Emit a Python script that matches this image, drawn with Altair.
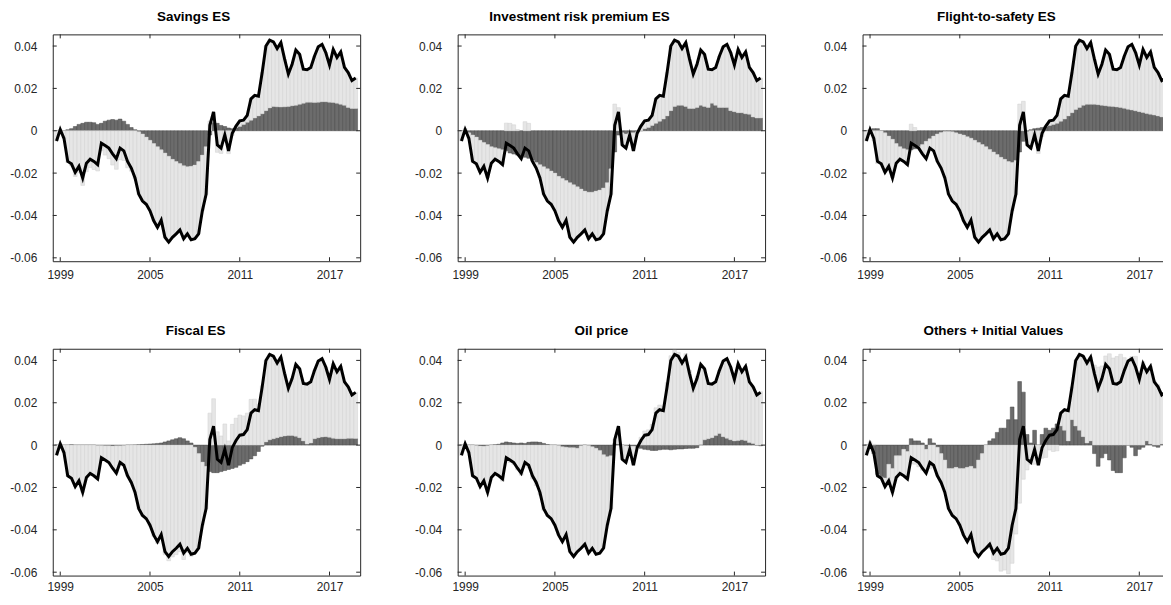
import altair as alt
import pandas as pd

titles = ["Savings ES", "Investment risk premium ES", "Flight-to-safety ES",
          "Fiscal ES", "Oil price", "Others + Initial Values"]
# the titles sit a little left of the plot centre in the original figure
title_shift = [-13, -32, -20, -11, -10, -23]

quarters = pd.period_range("1998Q4", "2018Q4", freq="Q")

# observed series (black line), same in every panel
total = [
    -0.0048, 0.0006, -0.0036, -0.0145, -0.0156, -0.0196, -0.0168, -0.0223, -0.0153, -0.0134,
    -0.0145, -0.016, -0.0059, -0.007, -0.0082, -0.0109, -0.0132, -0.0082, -0.0095, -0.0145,
    -0.0176, -0.0223, -0.030, -0.0332, -0.0347, -0.0378, -0.0425, -0.0456, -0.0422, -0.0503,
    -0.0526, -0.0503, -0.0487, -0.0468, -0.051, -0.0487, -0.0515, -0.051, -0.0487, -0.0378,
    -0.030, 0.0026, 0.0089, -0.0067, -0.0082, -0.002, -0.0095, -0.0012, 0.0022, 0.0047,
    0.005, 0.0073, 0.0151, 0.0167, 0.0163, 0.0275, 0.04, 0.0428, 0.042, 0.0388,
    0.0416, 0.0338, 0.0268, 0.0314, 0.0381, 0.0361, 0.0291, 0.0288, 0.0299, 0.0353,
    0.0397, 0.0408, 0.0369, 0.031, 0.0384, 0.0346, 0.0372, 0.0299, 0.0275, 0.0237,
    0.0249,
]

savings = [
    0, 0, 0, 0.0005, 0.001, 0.002, 0.003, 0.0035, 0.004, 0.004,
    0.0038, 0.003, 0.0035, 0.0045, 0.005, 0.0053, 0.005, 0.0055, 0.0045, 0.003,
    0.0015, 0.0005, -0.0005, -0.0015, -0.003, -0.0045, -0.006, -0.0075, -0.009, -0.0105,
    -0.012, -0.0135, -0.0145, -0.0155, -0.0165, -0.017, -0.0168, -0.0162, -0.0145, -0.0115,
    -0.0075, -0.002, 0.004, 0.0035, 0.0025, 0.002, 0.0013, 0.001, 0.0015, 0.002,
    0.003, 0.004, 0.005, 0.006, 0.007, 0.008, 0.0095, 0.0108, 0.0115, 0.0113,
    0.0112, 0.0113, 0.0115, 0.0118, 0.012, 0.0125, 0.013, 0.0135, 0.0135, 0.0133,
    0.0135, 0.0137, 0.0137, 0.0135, 0.0133, 0.013, 0.0125, 0.012, 0.011, 0.0105,
    0.0105,
]

invest = [
    0, -0.0005, -0.001, -0.002, -0.003, -0.0045, -0.0055, -0.0065, -0.0075, -0.008,
    -0.0085, -0.009, -0.0095, -0.0105, -0.011, -0.0115, -0.012, -0.0125, -0.013, -0.014,
    -0.015, -0.016, -0.017, -0.018, -0.019, -0.02, -0.0215, -0.0225, -0.0235, -0.0245,
    -0.0255, -0.0265, -0.0275, -0.0285, -0.029, -0.029, -0.0285, -0.028, -0.027, -0.0245,
    -0.018, -0.01, -0.002, -0.001, -0.0015, -0.001, -0.001, -0.0005, 0, 0.001,
    0.0015, 0.0025, 0.0035, 0.0045, 0.0055, 0.007, 0.0095, 0.0115, 0.012, 0.012,
    0.0115, 0.0105, 0.0105, 0.011, 0.012, 0.0115, 0.011, 0.013, 0.012, 0.011,
    0.011, 0.011, 0.0095, 0.009, 0.0085, 0.0085, 0.008, 0.0078, 0.0065, 0.006,
    0.006,
]

flight = [
    0, 0.0005, 0.001, 0.001, 0, -0.001, -0.0025, -0.004, -0.006, -0.0075,
    -0.0085, -0.009, -0.009, -0.0085, -0.0075, -0.0065, -0.005, -0.0038, -0.0025, -0.0015,
    -0.0008, -0.0004, -0.0003, -0.0005, -0.001, -0.0015, -0.002, -0.0028, -0.0035, -0.0045,
    -0.0055, -0.0065, -0.0075, -0.0088, -0.01, -0.0112, -0.0125, -0.0135, -0.0145, -0.015,
    -0.014, -0.01, -0.005, -0.0005, 0.0005, 0.001, 0.0012, 0.0015, 0.002, 0.0025,
    0.003, 0.0035, 0.0045, 0.0055, 0.007, 0.0085, 0.01, 0.011, 0.012, 0.0125,
    0.0125, 0.0125, 0.0123, 0.012, 0.0118, 0.0116, 0.0114, 0.0112, 0.011, 0.0106,
    0.0102, 0.0098, 0.0094, 0.009, 0.0086, 0.0082, 0.0078, 0.0074, 0.007, 0.0065,
    0.006,
]

fiscal = [
    0, 0, 0, 0, 0.0002, 0, 0, 0, 0, 0,
    0, -0.0002, -0.0002, -0.0003, -0.0003, -0.0004, -0.0003, -0.0003, -0.0002, 0,
    0, 0.0001, 0.0002, 0.0003, 0.0004, 0.0005, 0.0006, 0.0008, 0.001, 0.0015,
    0.002, 0.0025, 0.003, 0.0035, 0.003, 0.002, 0.001, -0.001, -0.004, -0.008,
    -0.01, -0.0125, -0.013, -0.013, -0.0125, -0.012, -0.0115, -0.011, -0.0105, -0.0095,
    -0.0088, -0.0078, -0.0065, -0.005, -0.003, -0.0005, 0.0015, 0.0025, 0.003, 0.0035,
    0.004, 0.0043, 0.0045, 0.0045, 0.0042, 0.0035, 0.002, 0.0005, 0.001, 0.003,
    0.0035, 0.0038, 0.004, 0.0037, 0.0033, 0.003, 0.003, 0.003, 0.0032, 0.0032,
    0.0031,
]

oil = [
    0, 0, 0, 0, -0.0002, -0.0004, -0.0005, -0.0003, 0, 0.0002,
    0.0004, 0.001, 0.0015, 0.0012, 0.001, 0.0008, 0.001, 0.0008, 0.0013, 0.0015,
    0.0015, 0.0013, 0.0008, 0.0003, 0, 0, -0.0002, -0.0008, -0.001, -0.0012,
    -0.0012, -0.0015, -0.0003, 0, -0.0002, -0.0008, -0.0015, -0.0025, -0.0045, -0.0055,
    -0.005, 0.0008, 0.0005, 0, -0.0003, -0.0005, -0.0005, -0.001, -0.0015, -0.002,
    -0.0022, -0.0025, -0.0025, -0.0022, -0.002, -0.002, -0.0022, -0.002, -0.0018, -0.0018,
    -0.0016, -0.0015, -0.0015, -0.0012, 0.0003, 0.0025, 0.003, 0.0035, 0.0045, 0.0055,
    0.004, 0.0033, 0.0025, 0.002, 0.0022, 0.0025, 0.0022, 0.0012, 0.0008, 0,
    -0.0003,
]

others = [
    0, -0.001, -0.004, -0.014, -0.015, -0.0155, -0.009, -0.011, -0.005, -0.005,
    -0.002, -0.003, 0.003, 0.002, 0.002, 0.001, -0.002, 0.003, 0.001, -0.001,
    -0.004, -0.007, -0.011, -0.011, -0.0105, -0.011, -0.011, -0.0105, -0.01, -0.011,
    -0.007, -0.004, 0, 0.002, 0.003, 0.006, 0.008, 0.008, 0.012, 0.018,
    0.012, 0.03, 0.025, 0.005, 0.001, 0.007, 0, 0.005, 0.008, 0.007,
    0.008, 0.01, 0.009, 0.007, 0.002, 0.012, 0.009, 0.007, 0.004, 0.001,
    0.002, -0.004, -0.01, -0.006, -0.004, -0.007, -0.012, -0.013, -0.013, -0.006,
    0, -0.001, -0.005, -0.002, -0.001, 0.002, 0.0005, -0.0005, -0.001, 0.0005,
    0,
]

components = [savings, invest, flight, fiscal, oil, others]

x_ticks = [1999, 2005, 2011, 2017]
y_ticks = [-0.06, -0.04, -0.02, 0, 0.02, 0.04]

W, H = 309, 228
FONT = "Liberation Sans"
INK = "#262626"

t = [p.year + (p.quarter - 1) / 4 for p in quarters]


def x_enc(field, pad):
    return alt.X(field, type="quantitative",
                 scale=alt.Scale(domain=[1998.5, 2019.05], nice=False, zero=False),
                 axis=alt.Axis(values=x_ticks, format="d", title=None, grid=False,
                               ticks=False, domain=False, labelPadding=pad,
                               labelFont=FONT, labelFontSize=12, labelColor=INK))


def y_enc(field):
    return alt.Y(field, type="quantitative",
                 scale=alt.Scale(domain=[-0.0616, 0.0455], nice=False, zero=False),
                 axis=alt.Axis(values=y_ticks, title=None, grid=False,
                               ticks=False, domain=False, labelPadding=16,
                               labelFont=FONT, labelFontSize=12, labelColor=INK,
                               labelExpr="datum.value == 0 ? '0' : "
                                         "(datum.value < 0 ? '-' : '') + format(abs(datum.value), '.2f')"))


def panel(title, shift, comp, pad):
    n = len(t)
    bars = pd.DataFrame({
        "t": t * 2,
        "part": ["comp"] * n + ["rest"] * n,
        "order": [0] * n + [1] * n,
        "value": comp + [a - b for a, b in zip(total, comp)],
    })
    bar = alt.Chart(bars).transform_calculate(
        x0="datum.t - 0.125", x1="datum.t + 0.125"
    ).transform_stack(
        stack="value", groupby=["t"], as_=["y0", "y1"], offset="zero",
        sort=[alt.SortField("order")]
    ).mark_bar(clip=True, strokeWidth=0.5).encode(
        x=x_enc("x0", pad), x2="x1",
        y=y_enc("y0"), y2="y1",
        color=alt.Color("part:N", legend=None,
                        scale=alt.Scale(domain=["comp", "rest"], range=["#6c6c6c", "#e6e6e6"])),
        stroke=alt.Stroke("part:N", legend=None,
                          scale=alt.Scale(domain=["comp", "rest"], range=["#474747", "#d0d0d0"])),
    )

    line = alt.Chart(pd.DataFrame({"t": t, "total": total})).mark_line(
        color="black", strokeWidth=3, clip=True
    ).encode(x=x_enc("t", pad), y=y_enc("total"))

    # inward ticks on all four sides
    yt = alt.Chart(pd.DataFrame({"v": y_ticks})).mark_rule(color=INK, strokeWidth=1)
    xt = alt.Chart(pd.DataFrame({"v": x_ticks})).mark_rule(color=INK, strokeWidth=1)
    left = yt.encode(y=y_enc("v"), x=alt.value(0), x2=alt.value(4))
    right = yt.encode(y=y_enc("v"), x=alt.value(W - 4), x2=alt.value(W))
    top = xt.encode(x=x_enc("v", pad), y=alt.value(0), y2=alt.value(4))
    bottom = xt.encode(x=x_enc("v", pad), y=alt.value(H - 4), y2=alt.value(H))

    return alt.layer(bar, line, left, right, top, bottom).properties(
        width=W, height=H,
        title=alt.TitleParams(title, font=FONT, fontSize=13.5, fontWeight="bold",
                              color="black", anchor="middle", offset=10.5, dx=shift),
    )


label_pad = [8, 8, 8, 6, 6, 6]
panels = [panel(ti, dx, c, p)
          for ti, dx, c, p in zip(titles, title_shift, components, label_pad)]

chart = alt.concat(
    *panels, columns=3, spacing={"row": 88, "column": 98}, bounds="flush"
).properties(
    padding={"left": 1, "top": 0, "right": -8, "bottom": 0}
).configure_view(stroke=INK, strokeWidth=1)

chart.save("out.html", embed_options={"renderer": "svg", "actions": False})
